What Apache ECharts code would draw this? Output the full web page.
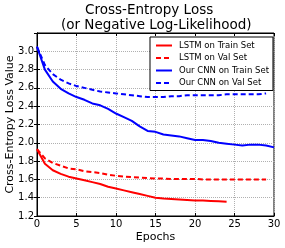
<!DOCTYPE html>
<html><head><meta charset="utf-8">
<script src="https://cdn.jsdelivr.net/npm/echarts@6/dist/echarts.min.js"></script>
<style>html,body{margin:0;padding:0;background:#fff}#c{width:285px;height:248px}</style>
</head><body><div id="c"></div>
<script>
const titleLines = ["Cross-Entropy Loss", "(or Negative Log-Likelihood)"];
const xLabel = "Epochs";
const yLabel = "Cross-Entropy Loss Value";
const seriesNames = ["LSTM on Train Set", "LSTM on Val Set", "Our CNN on Train Set", "Our CNN on Val Set"];
const lstmTrain = [1.93,1.77,1.70,1.66,1.63,1.61,1.59,1.57,1.55,1.52,1.50,1.48,1.46,1.44,1.42,1.40,1.39,1.385,1.38,1.375,1.37,1.37,1.365,1.36,1.355];
const lstmVal = [1.93,1.83,1.78,1.75,1.72,1.71,1.69,1.68,1.67,1.65,1.64,1.63,1.625,1.62,1.615,1.61,1.61,1.605,1.605,1.605,1.605,1.60,1.60,1.60,1.60,1.60,1.60,1.60,1.60,1.60];
const cnnTrain = [3.05,2.80,2.67,2.59,2.54,2.50,2.47,2.43,2.41,2.37,2.32,2.28,2.24,2.18,2.13,2.12,2.09,2.08,2.07,2.05,2.03,2.03,2.02,2.00,1.99,1.98,1.97,1.98,1.98,1.97,1.95];
const cnnVal = [3.05,2.85,2.75,2.69,2.65,2.62,2.60,2.58,2.56,2.55,2.54,2.53,2.52,2.51,2.50,2.50,2.50,2.51,2.51,2.52,2.52,2.52,2.52,2.52,2.53,2.53,2.53,2.53,2.53,2.54];

const pts = a => a.map((v,i)=>[i,v]);
const font = "DejaVu Sans";
const mk = (name, data, color, dashed) => ({
  name, type:'line', data: pts(data), showSymbol:false, symbol:'none',
  lineStyle:{color, width:2, type: dashed ? [5,3] : 'solid'}, itemStyle:{color},
  animation:false, xAxisIndex:0, yAxisIndex:0
});
const chart = echarts.init(document.getElementById('c'), null, {renderer:'canvas'});
const baseX = {type:'value', min:0, max:30, interval:5};
const baseY = {type:'value', min:1.2, max:3.2, interval:0.2};
chart.setOption({
  animation:false,
  title:[
    {text:titleLines[0], left:85, top:3, padding:0, textStyle:{fontFamily:font, fontSize:13.5, fontWeight:'normal', color:'#000'}},
    {text:titleLines[1], left:61, top:18, padding:0, textStyle:{fontFamily:font, fontSize:13.5, fontWeight:'normal', color:'#000'}}
  ],
  grid:{left:37, right:11, top:33, bottom:32, containLabel:false, outerBoundsMode:'none',
    show:true, borderColor:'#000', borderWidth:1, backgroundColor:'transparent'},
  legend:{
    orient:'vertical', left:150, top:37, padding:[4,4,3,5], itemGap:3.5, itemWidth:16, itemHeight:9,
    borderColor:'#000', borderWidth:1, backgroundColor:'#fff',
    itemStyle:{opacity:0},
    lineStyle:{width:2},
    textStyle:{fontFamily:font, fontSize:8.5, color:'#000', padding:[0,0,0,2]},
    data: seriesNames
  },
  xAxis:[
    Object.assign({}, baseX, {position:'bottom', name:xLabel, nameLocation:'middle', nameGap:15.5, nameMoveOverlap:false,
      nameTextStyle:{fontFamily:font, fontSize:11, color:'#000'},
      axisLine:{show:true, lineStyle:{color:'#000', width:1}},
      axisTick:{show:true, inside:true, length:3, lineStyle:{color:'#000'}},
      axisLabel:{fontFamily:font, fontSize:10, color:'#000', margin:3},
      splitLine:{show:true, lineStyle:{color:'#b0b0b0', type:'dotted', width:1}}}),
    Object.assign({}, baseX, {position:'top',
      axisLine:{show:true, lineStyle:{color:'#000', width:1}},
      axisTick:{show:true, inside:true, length:3, lineStyle:{color:'#000'}},
      axisLabel:{show:false}, splitLine:{show:false}})
  ],
  yAxis:[
    Object.assign({}, baseY, {position:'left', name:yLabel, nameLocation:'middle', nameGap:21, nameMoveOverlap:false,
      nameTextStyle:{fontFamily:font, fontSize:11, color:'#000'},
      axisLine:{show:true, lineStyle:{color:'#000', width:1}},
      axisTick:{show:true, inside:true, length:3, lineStyle:{color:'#000'}},
      axisLabel:{fontFamily:font, fontSize:10, color:'#000', margin:3, showMaxLabel:false,
        formatter: v => v.toFixed(1)},
      splitLine:{show:true, lineStyle:{color:'#b0b0b0', type:'dotted', width:1}}}),
    Object.assign({}, baseY, {position:'right',
      axisLine:{show:true, lineStyle:{color:'#000', width:1}},
      axisTick:{show:true, inside:true, length:3, lineStyle:{color:'#000'}},
      axisLabel:{show:false}, splitLine:{show:false}})
  ],
  series:[
    mk(seriesNames[0], lstmTrain, '#ff0000', false),
    mk(seriesNames[1], lstmVal, '#ff0000', true),
    mk(seriesNames[2], cnnTrain, '#0000ff', false),
    mk(seriesNames[3], cnnVal, '#0000ff', true)
  ]
});
</script></body></html>
